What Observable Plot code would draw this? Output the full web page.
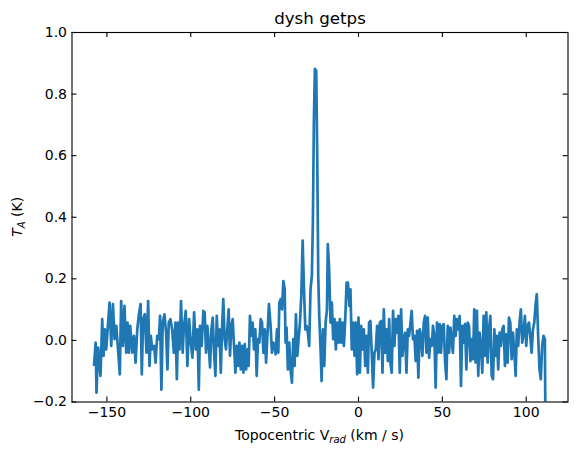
<!DOCTYPE html>
<html>
<head>
<meta charset="utf-8">
<script src="https://cdn.jsdelivr.net/npm/d3@7"></script>
<script src="https://cdn.jsdelivr.net/npm/@observablehq/plot@0.6"></script>
<style>
  html, body { margin: 0; padding: 0; background: white; }
</style>
</head>
<body>
<div id="chart"></div>
<script>
const velocity = [
  -157.7,-156.7,-156.2,-155.2,-153.8,-152.8,-152.0,-151.2,-150.4,-149.4,-148.4,-147.4,-146.4,-145.4,-144.4,-143.5,-142.3,-141.5,-140.5,-139.5,
  -138.5,-137.7,-136.9,-136.1,-134.9,-133.9,-132.9,-131.9,-130.9,-129.9,-129.2,-128.4,-127.4,-126.4,-125.4,-124.6,-123.8,-123.0,-121.8,-121.0,
  -120.0,-119.0,-118.3,-117.5,-116.7,-115.7,-114.7,-113.9,-113.1,-112.1,-111.1,-110.1,-109.1,-108.3,-107.5,-106.7,-105.8,-104.8,-104.2,
  -103.0,-102.0,-101.0,-100.0,-99.0,-98.0,-97.0,-96.0,-95.2,-94.5,-93.5,-92.5,-91.7,-90.9,-90.1,-89.3,-88.5,-87.7,-86.9,-86.1,
  -85.3,-84.5,-83.7,-82.9,-82.1,-81.3,-80.6,-79.8,-79.0,-78.2,-77.4,-76.6,-75.8,-75.0,-74.2,-73.4,-72.6,-71.8,-71.0,-70.2,
  -69.4,-68.6,-67.8,-67.0,-66.2,-65.5,-64.7,-63.9,-63.1,-62.3,-61.5,-60.7,-59.9,-59.1,-58.3,-57.5,-56.7,-55.9,-55.1,-54.4,
  -53.4,-52.4,-51.6,-50.8,-50.0,
  -49.4,-48.6,-47.8,-47.2,-46.4,-45.6,-44.8,-44.0,-43.5,-42.9,-42.1,-41.3,-40.5,-39.7,-38.9,-38.1,-37.3,-36.5,-35.7,-34.9,
  -34.1,-33.3,-32.5,-31.7,-30.9,-30.2,-29.4,-28.6,-27.8,-27.2,-26.6,-26.0,-25.2,-24.6,-24.0,-23.4,-22.6,-22.0,-21.2,-20.4,
  -19.6,-18.8,-18.3,-17.5,-16.7,-15.9,-15.1,-14.3,-13.5,-12.7,-11.9,-11.1,-10.3,-9.5,-8.7,-7.9,-7.1,-6.3,-5.5,-4.8,
  -4.0,-3.2,-2.4,-1.6,-0.8,0.0,0.8,1.6,2.4,
  3.2,4.0,4.8,5.6,6.3,7.1,7.9,8.7,9.5,10.3,11.1,11.9,12.7,13.5,14.3,15.1,15.9,16.7,17.5,18.3,
  19.0,19.8,20.6,21.4,22.2,23.0,23.8,24.6,25.4,26.2,27.0,27.8,28.6,29.4,30.2,31.0,31.7,32.5,33.3,34.1,
  34.9,35.7,36.5,37.3,38.1,38.9,39.7,40.5,41.3,42.1,42.9,43.7,44.4,45.2,46.0,46.8,47.6,48.4,49.2,50.0,
  50.8,51.6,52.4,53.2,54.0,54.8,55.6,
  56.3,57.1,57.9,58.7,59.5,60.3,61.1,61.9,62.7,63.5,64.3,65.1,65.9,66.7,67.5,68.3,69.0,69.8,70.6,71.4,
  72.2,73.0,73.8,74.6,75.4,76.2,77.0,77.8,78.6,79.4,80.2,81.0,81.7,82.5,83.3,84.1,84.9,85.7,86.5,87.3,
  88.1,88.9,89.7,90.5,91.3,92.1,92.9,93.7,94.4,95.2,96.0,96.8,97.6,98.4,99.2,100.0,100.8,101.6,102.4,103.2,
  104.0,104.8,105.6,106.3,107.1,107.9,108.7,109.5,110.3,111.1,111.5
];
const ta = [
  -0.083,-0.007,-0.170,-0.023,-0.115,0.069,-0.050,0.036,-0.029,0.047,0.123,-0.018,0.118,0.004,0.047,-0.018,-0.110,0.128,-0.018,0.112,
  -0.040,0.058,-0.040,0.047,-0.040,0.015,-0.072,0.036,0.085,0.118,-0.110,0.069,0.085,-0.040,0.128,-0.083,0.015,-0.029,-0.018,-0.072,
  0.015,0.004,0.080,-0.160,0.058,0.085,0.025,-0.094,0.058,0.069,0.036,-0.040,0.058,-0.126,0.058,-0.029,0.128,-0.040,0.036,
  0.096,-0.083,0.069,-0.007,-0.056,0.091,-0.029,0.036,-0.160,0.047,-0.018,0.096,0.091,-0.040,0.047,-0.012,-0.088,0.036,0.074,-0.040,
  -0.115,0.080,-0.018,0.036,-0.105,0.047,0.134,0.004,-0.029,0.036,0.101,-0.050,0.047,0.069,-0.018,-0.105,-0.018,-0.083,-0.007,-0.094,
  -0.018,-0.105,-0.012,-0.094,-0.029,-0.083,0.080,0.015,0.058,-0.029,0.036,-0.115,0.004,-0.007,0.069,0.058,-0.040,0.036,-0.072,0.004,
  0.118,0.047,-0.040,-0.007,-0.018,
  -0.045,0.036,-0.040,0.123,0.134,0.101,0.193,0.166,-0.007,0.042,-0.094,-0.007,-0.094,-0.137,0.004,-0.083,0.085,-0.050,0.004,0.058,
  0.145,0.324,0.166,0.036,0.047,0.025,-0.018,0.166,0.210,0.383,0.708,0.882,0.876,0.600,0.210,0.080,-0.029,-0.132,0.036,-0.083,
  0.058,0.101,0.313,0.231,0.058,0.123,0.004,0.069,-0.029,0.058,-0.007,0.069,-0.007,0.058,-0.018,0.069,0.188,0.188,0.112,0.166,
  -0.029,0.058,-0.050,0.058,-0.110,0.074,-0.105,0.047,-0.029,
  0.036,-0.083,0.015,-0.105,0.058,0.063,-0.040,-0.153,-0.040,-0.029,0.047,-0.061,0.058,0.063,-0.105,0.101,-0.040,0.036,-0.067,0.069,
  -0.072,-0.105,0.096,-0.018,0.069,0.025,0.080,-0.105,0.101,-0.050,0.004,0.025,-0.105,0.036,0.015,0.058,0.096,0.004,0.015,-0.067,
  0.031,-0.121,0.036,0.015,-0.050,0.058,0.080,-0.040,0.074,-0.056,0.004,-0.018,0.047,0.015,-0.153,0.058,-0.040,0.053,-0.040,0.047,
  0.053,-0.067,-0.126,0.047,-0.040,0.042,-0.007,
  -0.040,0.080,0.015,0.069,0.036,0.080,-0.148,0.047,-0.007,0.053,-0.094,0.058,0.047,-0.067,0.004,-0.061,0.101,-0.072,0.096,-0.115,
  0.025,-0.018,-0.105,0.080,-0.050,0.091,-0.072,0.036,0.080,-0.115,-0.126,0.036,-0.050,0.015,-0.094,0.025,-0.018,0.036,0.047,-0.083,
  0.020,-0.072,0.074,0.058,-0.061,0.025,-0.040,-0.115,0.036,-0.018,0.058,0.101,-0.007,0.020,0.080,-0.018,0.047,0.058,0.015,-0.040,
  0.036,0.058,0.118,0.150,0.015,-0.094,-0.126,-0.018,0.015,0.004,-0.300
];
const xTicks = [-150, -100, -50, 0, 50, 100];
const yTicks = [-0.2, 0.0, 0.2, 0.4, 0.6, 0.8, 1.0];
const titleText = "dysh getps";

const data = velocity.map((v, i) => ({v, t: ta[i]}));

const W = 577, H = 454;
const mL = 71.5, mR = 9.5, mT = 32, mB = 52.5;
const plotH = H - mT - mB;
const plotW = W - mL - mR;
const tickLen = 4.9;
const minus = s => s.replace("-", "\u2212");

const chart = Plot.plot({
  width: W,
  height: H,
  marginLeft: mL,
  marginRight: mR,
  marginTop: mT,
  marginBottom: mB,
  x: {domain: [-170.8, 124.9]},
  y: {domain: [-0.2, 1.0]},
  style: {fontFamily: "'DejaVu Sans', sans-serif", fontSize: "14px", color: "black", background: "white", overflow: "visible"},
  marks: [
    Plot.line(data, {x: "v", y: "t", stroke: "#1f77b4", strokeWidth: 2.7, clip: true, strokeLinejoin: "round", strokeLinecap: "butt"}),
    Plot.frame({stroke: "black", strokeWidth: 1.1}),
    Plot.tickX(xTicks, {x: d => d, insetTop: plotH - tickLen, stroke: "black", strokeWidth: 1.1}),
    Plot.tickX(xTicks, {x: d => d, insetBottom: plotH - tickLen, stroke: "black", strokeWidth: 1.1}),
    Plot.tickY(yTicks, {y: d => d, insetRight: plotW - tickLen, stroke: "black", strokeWidth: 1.1}),
    Plot.tickY(yTicks, {y: d => d, insetLeft: plotW - tickLen, stroke: "black", strokeWidth: 1.1}),
    Plot.axisX(xTicks, {tickSize: 0, tickPadding: 5, tickFormat: d => minus(String(d)), label: null, fontSize: 14}),
    Plot.axisY(yTicks, {tickSize: 0, tickPadding: 5, tickFormat: d => minus(d.toFixed(1)), label: null, fontSize: 14}),
    Plot.text([titleText], {text: d => d, frameAnchor: "top", lineAnchor: "middle", dy: -14, fontSize: 16.7, fill: "black"})
  ]
});
document.getElementById("chart").appendChild(chart);

const svg = d3.select(chart);
const xl = svg.append("text")
  .attr("x", mL + plotW / 2)
  .attr("y", 440)
  .attr("text-anchor", "middle")
  .attr("font-family", "'DejaVu Sans', sans-serif")
  .attr("font-size", 14)
  .attr("fill", "black");
xl.append("tspan").text("Topocentric V");
xl.append("tspan").attr("font-style", "italic").attr("font-size", 10).attr("dy", 3).text("rad");
xl.append("tspan").attr("dy", -3).text(" (km / s)");

const yl = svg.append("text")
  .attr("transform", `translate(22, ${mT + plotH / 2}) rotate(-90)`)
  .attr("text-anchor", "middle")
  .attr("font-family", "'DejaVu Sans', sans-serif")
  .attr("font-size", 14)
  .attr("fill", "black");
yl.append("tspan").attr("font-style", "italic").text("T");
yl.append("tspan").attr("font-style", "italic").attr("font-size", 10).attr("dy", 3).text("A");
yl.append("tspan").attr("dy", -3).text(" (K)");
</script>
</body>
</html>
